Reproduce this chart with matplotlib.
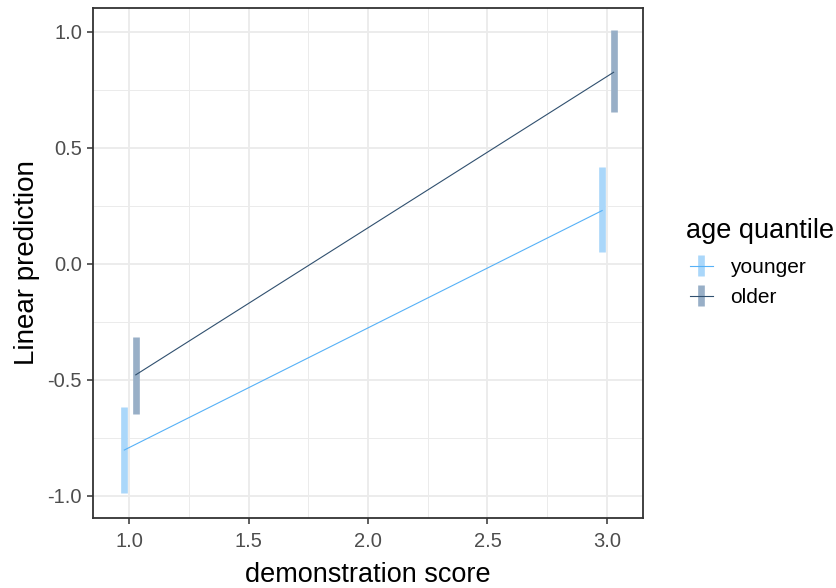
import matplotlib
matplotlib.use("Agg")
import matplotlib.pyplot as plt
from matplotlib.legend_handler import HandlerErrorbar

plt.rcParams['font.family'] = ['Liberation Sans', 'DejaVu Sans']

groups = ["younger", "older"]
x_vals = [1.0, 3.0]
dodge = {"younger": -0.02, "older": 0.028}
means = {"younger": [-0.802, 0.230], "older": [-0.478, 0.826]}
lower = {"younger": [-0.987, 0.053], "older": [-0.647, 0.654]}
upper = {"younger": [-0.616, 0.419], "older": [-0.313, 1.009]}
line_colors = {"younger": "#56B1F7", "older": "#30506f"}
bar_colors = {"younger": "#AAD7FA", "older": "#98AFC7"}
xticks = [1.0, 1.5, 2.0, 2.5, 3.0]
yticks = [-1.0, -0.5, 0.0, 0.5, 1.0]

fig = plt.figure(figsize=(8.36, 5.88), dpi=100)
ax = fig.add_axes([93/836, 70/588, 550/836, 510/588])

handles = []
for g in groups:
    xs = [x + dodge[g] for x in x_vals]
    m = means[g]
    yerr = [[mm - lo for mm, lo in zip(m, lower[g])], [up - mm for mm, up in zip(m, upper[g])]]
    h = ax.errorbar(xs, m, yerr=yerr, fmt='-', color=line_colors[g], lw=0.8,
                    ecolor=bar_colors[g], elinewidth=4.8, capsize=0,
                    label=g, zorder=3)
    handles.append(h)

ax.set_xlim(0.849, 3.151)
ax.set_ylim(-1.095, 1.103)
ax.set_xticks(xticks)
ax.set_xticklabels([f"{t:.1f}" for t in xticks])
ax.set_yticks(yticks)
ax.set_yticklabels([f"{t:.1f}" for t in yticks])
ax.set_xticks([1.25, 1.75, 2.25, 2.75], minor=True)
ax.set_yticks([-0.75, -0.25, 0.25, 0.75], minor=True)
ax.grid(which='major', color='#ebebeb', lw=1.3, zorder=0)
ax.grid(which='minor', color='#ebebeb', lw=0.7, zorder=0)
ax.set_axisbelow(True)
ax.tick_params(which='major', length=4, width=1.1, color='#333333', labelcolor='#4d4d4d', labelsize=14.5, pad=4)
ax.tick_params(axis='x', which='major', pad=6)
ax.tick_params(which='minor', length=0)
for s in ax.spines.values():
    s.set_color('#333333')
    s.set_linewidth(1.3)

ax.set_xlabel("demonstration score", fontsize=19.5, color='black', labelpad=8)
ax.set_ylabel("Linear prediction", fontsize=20, color='black', labelpad=5)

fig.text(686/836, 1 - 238/588, "age quantile", fontsize=19.5, color='black',
         ha='left', va='baseline')
leg = fig.legend(handles=handles, labels=groups,
                 loc='center left', bbox_to_anchor=(690/836, 1 - 282.5/588),
                 frameon=False, fontsize=15,
                 borderpad=0, borderaxespad=0,
                 handlelength=1.1, handletextpad=0.82, labelspacing=0.54,
                 handler_map={type(handles[0]): HandlerErrorbar(yerr_size=0.5)})

fig.savefig("out.png", dpi=100)
